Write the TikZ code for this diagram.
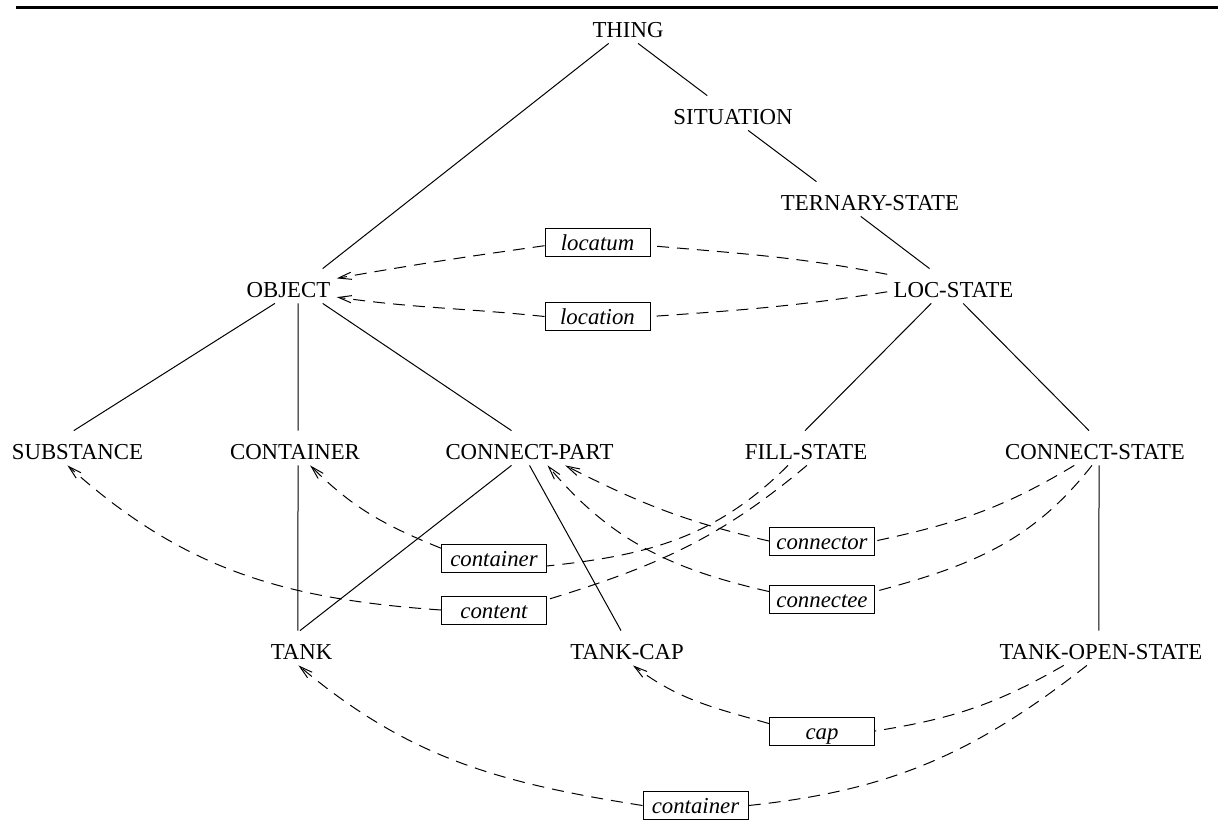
\documentclass[tikz,border=0pt]{standalone}
\usepackage{fontspec}
\setmainfont{Liberation Serif}
\usepackage{tikz}
\usetikzlibrary{arrows.meta}
\newcommand{\kbfont}{\fontsize{11.4}{14}\selectfont}
\tikzset{
  concept/.style={anchor=base, inner sep=3pt, text height=11pt, text depth=0pt},
  role/.style={draw, line width=0.5pt, font=\kbfont\itshape, minimum width=52.5pt, minimum height=14pt, inner sep=0pt, text height=8pt, text depth=0pt},
  isa/.style={line width=0.5pt},
  rel/.style={line width=0.5pt, dash pattern=on 6pt off 4pt}
}

\begin{document}
\begin{tikzpicture}[x=0.5pt, y=0.5pt, >={Straight Barb[length=6.5pt,width=3.6pt]}, every node/.style={font=\kbfont}]
\useasboundingbox (0,0) rectangle (1218,-825);
\draw [line width=1.35pt] (16,-7.3) -- (1218,-7.3);

% concepts
\node [concept] (thing) at (628,-37) {THING};
\node [concept] (situation) at (733,-124) {SITUATION};
\node [concept] (ternary) at (870,-210) {TERNARY-STATE};
\node [concept] (object) at (288.5,-297) {OBJECT};
\node [concept] (locstate) at (953.5,-297) {LOC-STATE};
\node [concept] (substance) at (77.5,-459) {SUBSTANCE};
\node [concept] (container) at (295,-459) {CONTAINER};
\node [concept] (cpart) at (529.5,-459) {CONNECT-PART};
\node [concept] (fillstate) at (806,-459) {FILL-STATE};
\node [concept] (cstate) at (1095,-459) {CONNECT-STATE};
\node [concept] (tank) at (301.5,-659) {TANK};
\node [concept] (tankcap) at (627,-659) {TANK-CAP};
\node [concept] (tostate) at (1101,-659) {TANK-OPEN-STATE};

% roles
\node [role] (locatum) at (597.5,-242) {locatum};
\node [role] (location) at (597.5,-316.5) {location};
\node [role] (container1) at (494,-558.5) {container};
\node [role] (content) at (494,-610) {content};
\node [role] (connector) at (822,-541) {connector};
\node [role] (connectee) at (822,-599) {connectee};
\node [role] (cap) at (822,-731) {cap};
\node [role] (container2) at (695.5,-805.5) {container};

% subsumption
\draw [isa] (thing.-138) edge (object.27);
\draw [isa] (thing.-60) edge (situation.146);
\draw [isa] (situation.-49) edge (ternary.162);
\draw [isa] (ternary.-118) edge (locstate.144);
\draw [isa] (object.-128) edge (substance.102);
\draw [isa] (object.-61) edge (container.80);
\draw [isa] (object.-27) edge (cpart.136);
\draw [isa] (locstate.-142) edge (fillstate.93);
\draw [isa] (locstate.-61) edge (cstate.109);
\draw [isa] (container.-80) edge (tank.102);
\draw [isa] (cpart.-136) edge (tank.95);
\draw [isa] (cpart.-90) edge (tankcap.109);
\draw [isa] (cstate.-77) edge (tostate.97);

% role restrictions
\draw [rel] (locstate.170) edge [out=169, in=-5] (locatum.-4);
\draw [rel] (locatum.184) edge [->, out=188, in=10] (object.9);
\draw [rel] (locstate.-175) edge [out=189, in=4] (location.east);
\draw [rel] (location.west) edge [->, out=174, in=-8] (object.-13);
\draw [rel] (fillstate.-136) edge [out=225, in=6] (container1.-8);
\draw [rel] (container1.169) edge [->, out=158, in=-45] (container.-49);
\draw [rel] (fillstate.-87) edge [out=220, in=17] (content.11);
\draw [rel] (content.west) edge [->, out=176, in=-42] (substance.-120);
\draw [rel] (cstate.-140) edge [out=211, in=12] (connector.east);
\draw [rel] (connector.west) edge [->, out=167, in=-27] (cpart.-26);
\draw [rel] (cstate.-100) edge [out=232, in=15] (connectee.8);
\draw [rel] (connectee.172) edge [->, out=167, in=-50] (cpart.-44);
\draw [rel] (tostate.-155) edge [out=210, in=9] (cap.east);
\draw [rel] (cap.172) edge [->, out=164, in=-37] (tankcap.-71);
\draw [rel] (tostate.-129) edge [out=218, in=6] (container2.east);
\draw [rel] (container2.west) edge [->, out=171, in=-40] (tank.-100);
\end{tikzpicture}
\end{document}
